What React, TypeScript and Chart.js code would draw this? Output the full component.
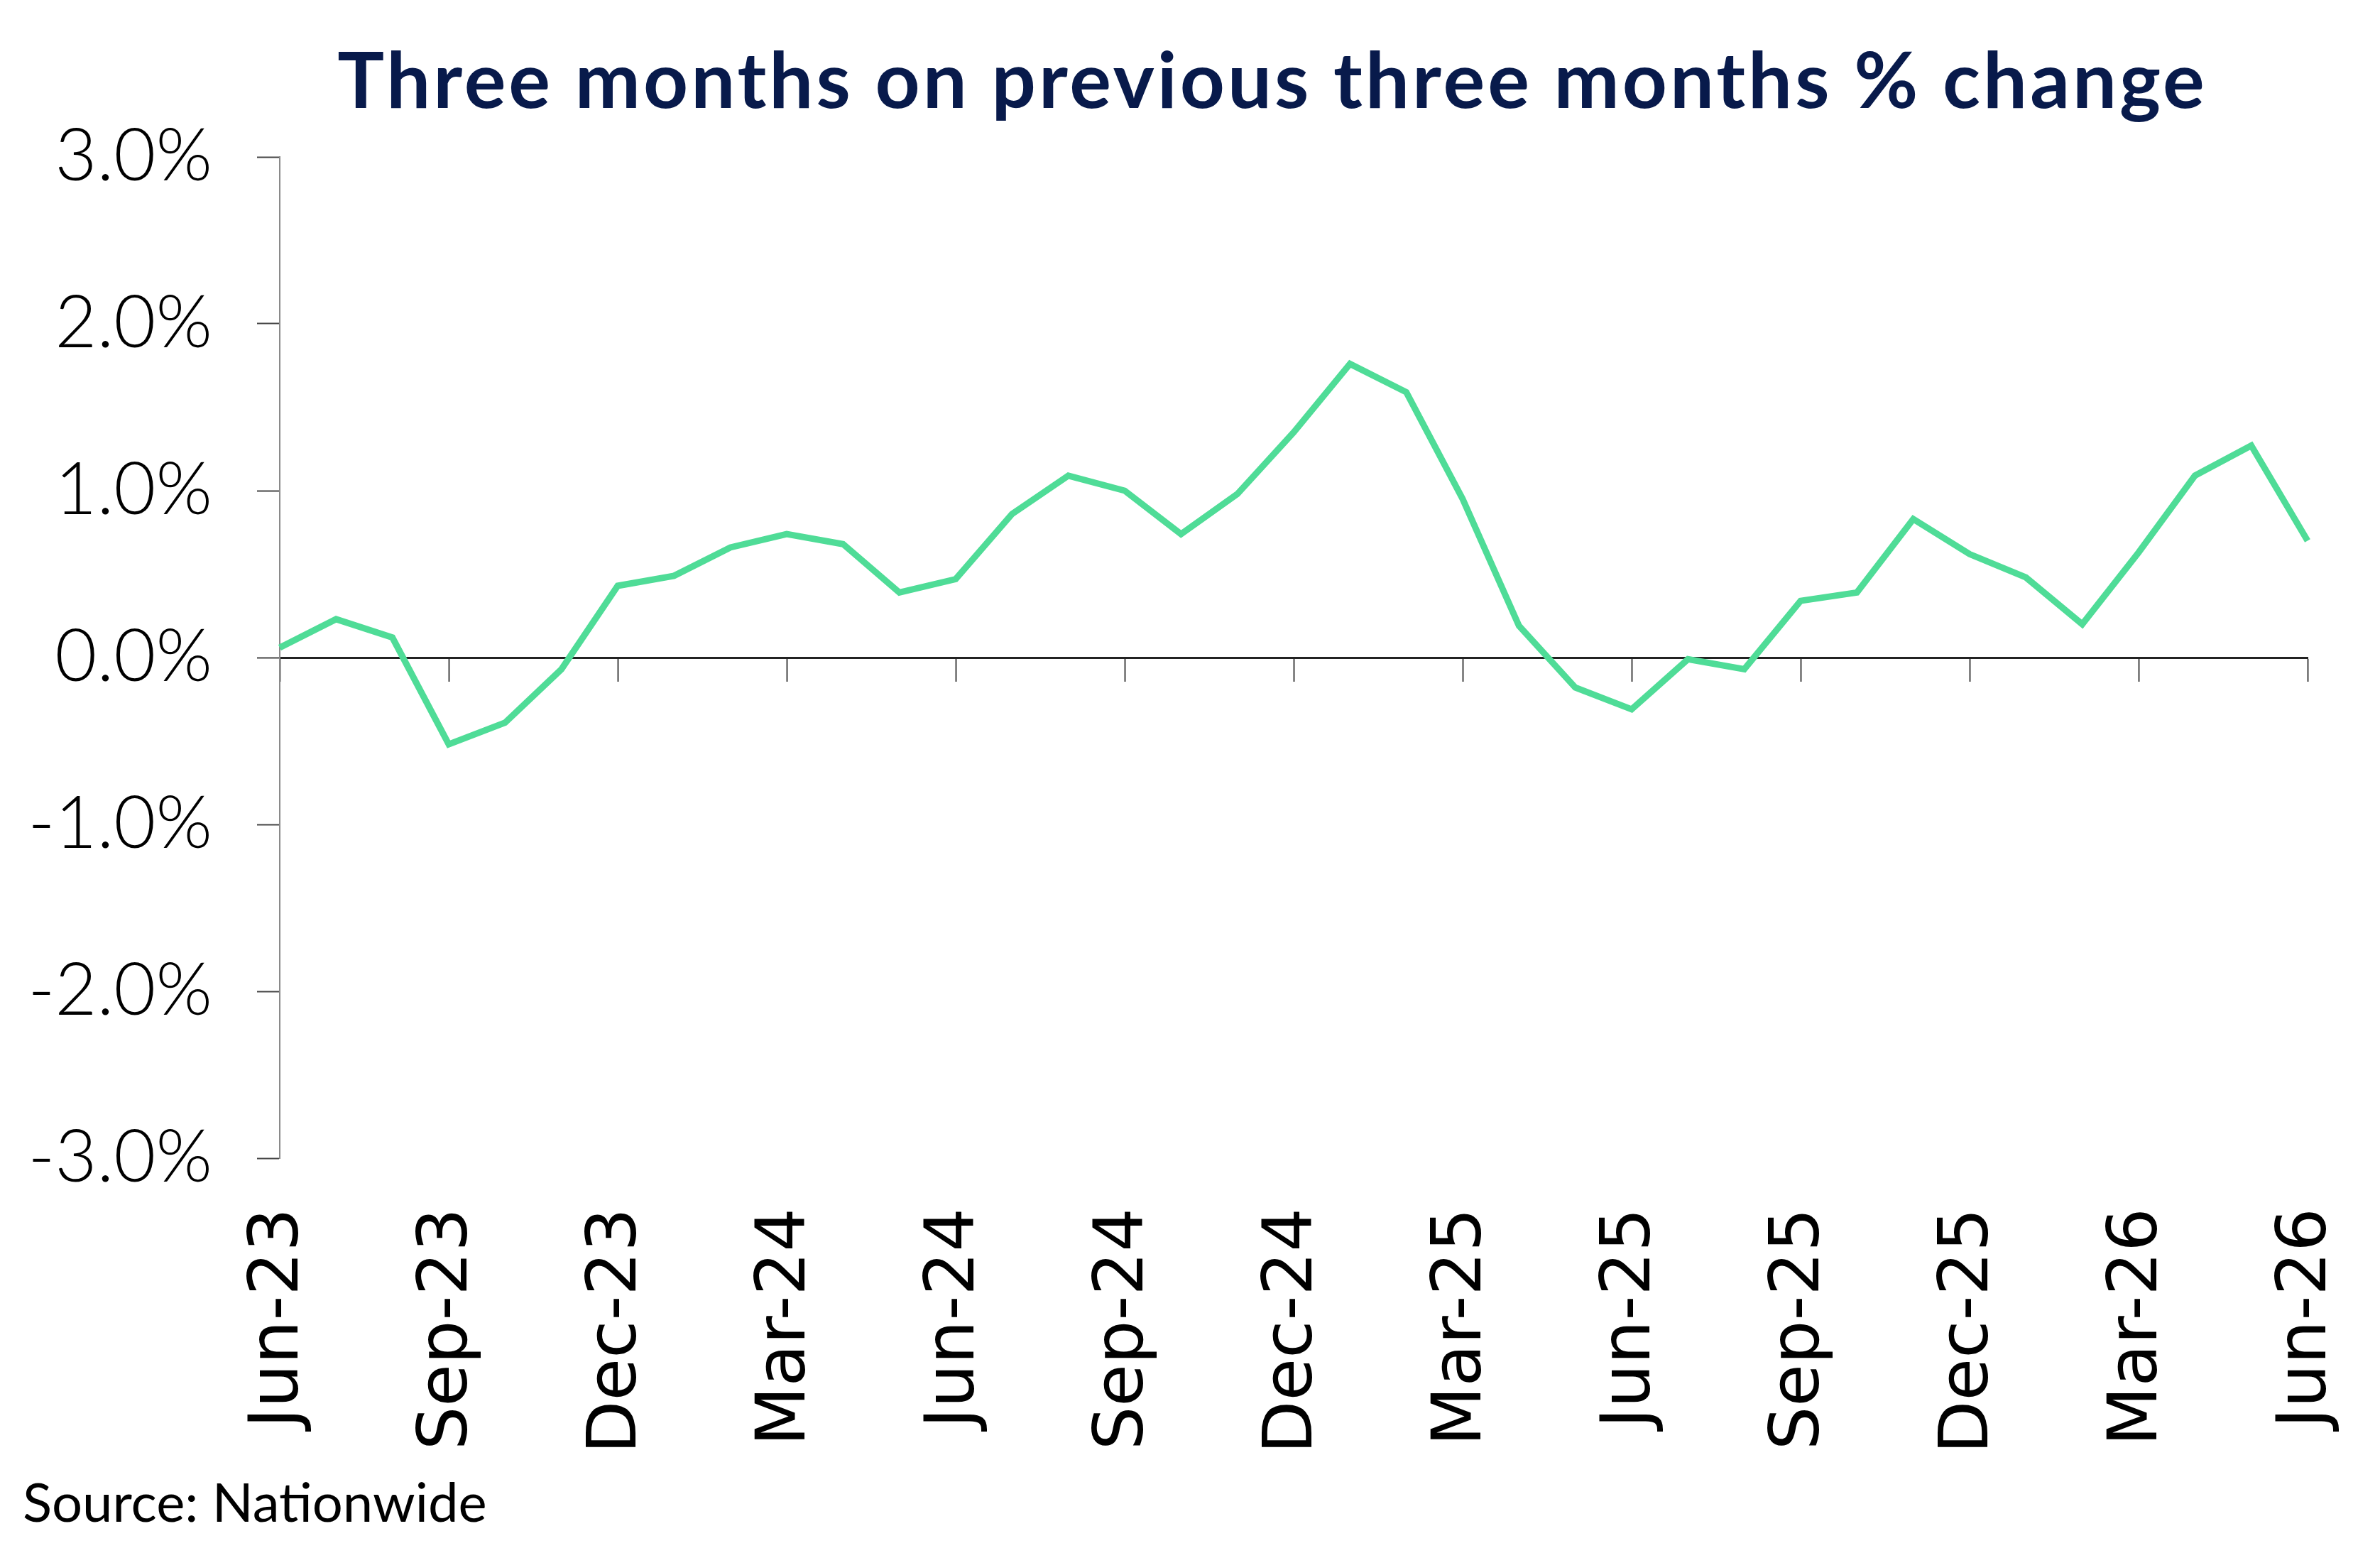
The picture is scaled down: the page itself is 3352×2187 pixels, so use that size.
import { useEffect, useRef } from "react"
import { Chart, registerables, type ChartConfiguration, type Plugin } from "chart.js"

Chart.register(...registerables)

// monthly periods, Jun-23 .. Jun-26
const MONTHS = [
  'Jun-23', 'Jul-23', 'Aug-23', 'Sep-23', 'Oct-23', 'Nov-23', 'Dec-23',
  'Jan-24', 'Feb-24', 'Mar-24', 'Apr-24', 'May-24', 'Jun-24', 'Jul-24',
  'Aug-24', 'Sep-24', 'Oct-24', 'Nov-24', 'Dec-24', 'Jan-25', 'Feb-25',
  'Mar-25', 'Apr-25', 'May-25', 'Jun-25', 'Jul-25', 'Aug-25', 'Sep-25',
  'Oct-25', 'Nov-25', 'Dec-25', 'Jan-26', 'Feb-26', 'Mar-26', 'Apr-26',
  'May-26', 'Jun-26',
]

// 3m on previous 3m % change
const CHANGE = [
  0.06, 0.23, 0.12, -0.52, -0.39, -0.07, 0.43,
  0.49, 0.66, 0.74, 0.68, 0.39, 0.47, 0.86,
  1.09, 1.00, 0.74, 0.98, 1.35, 1.76, 1.59,
  0.95, 0.19, -0.18, -0.31, -0.01, -0.07, 0.34,
  0.39, 0.83, 0.62, 0.48, 0.20, 0.63, 1.09,
  1.27, 0.70,
]

const Y_MIN = -3
const Y_MAX = 3
const LABEL_EVERY = 3

const TITLE = 'Three months on previous three months % change'
const SOURCE = 'Source: Nationwide'

const GREEN = 'rgb(79,220,151)'
const NAVY = '#081a4b'
const NARROW = 'Lato, "Open Sans", sans-serif'
const WIDE = '"DejaVu Sans", Verdana, sans-serif'

const textPlugin: Plugin<'line'> = {
  id: 'textOverlay',
  afterDraw(chart) {
    const { ctx, chartArea } = chart
    ctx.save()
    ctx.fillStyle = NAVY
    ctx.font = `bold 110px ${NARROW}`
    ;(ctx as any).letterSpacing = '4px'
    ctx.textAlign = 'center'
    ctx.textBaseline = 'alphabetic'
    ctx.fillText(TITLE, (chartArea.left + chartArea.right) / 2 - 30, 152)

    ;(ctx as any).letterSpacing = '0px'
    ctx.fillStyle = '#000'
    ctx.font = `normal 76px ${NARROW}`
    ctx.textAlign = 'left'
    ctx.fillText(SOURCE, 32, 2143)
    ctx.restore()
  },
}

export default function App() {
  const canvasRef = useRef<HTMLCanvasElement>(null)
  const chartRef = useRef<Chart<'line'> | null>(null)

  useEffect(() => {
    document.body.style.margin = '0'
    document.body.style.overflow = 'hidden'
    if (!canvasRef.current) return
    chartRef.current?.destroy()

    const cfg: ChartConfiguration<'line'> = {
      type: 'line',
      data: {
        labels: MONTHS,
        datasets: [
          {
            label: '3m on 3m',
            data: CHANGE,
            borderColor: GREEN,
            backgroundColor: 'transparent',
            borderWidth: 9,
            pointRadius: 0,
            tension: 0,
            xAxisID: 'x',
            yAxisID: 'y',
          },
        ],
      },
      options: {
        responsive: true,
        maintainAspectRatio: false,
        animation: false,
        layout: { padding: { top: 221, left: 0, right: 102, bottom: 0 } },
        plugins: {
          legend: { display: false },
          tooltip: { enabled: false },
          title: { display: false },
        },
        scales: {
          x: {
            type: 'category',
            position: 'bottom',
            offset: false,
            grid: { display: false },
            border: { display: false },
            afterFit: (s: any) => {
              s.height = 556
              s.paddingLeft = 0
              s.paddingRight = 0
            },
            ticks: {
              autoSkip: false,
              minRotation: 90,
              maxRotation: 90,
              padding: 62,
              color: '#000',
              font: { family: WIDE, size: 97 },
              callback: (_v, i) => (i % LABEL_EVERY === 0 ? MONTHS[i] : null),
            },
          },
          // zero line with quarter tick marks
          x0: {
            type: 'category',
            position: { y: 0 },
            offset: false,
            grid: {
              display: true,
              drawOnChartArea: false,
              drawTicks: true,
              tickLength: 32,
              tickWidth: 2,
              tickColor: (c) => (c.index % LABEL_EVERY === 0 ? '#444' : 'transparent'),
            },
            border: { display: true, color: '#222', width: 3 },
            ticks: { display: false, autoSkip: false },
          },
          y: {
            min: Y_MIN,
            max: Y_MAX,
            afterFit: (s) => { s.width = 394 },
            grid: {
              display: true,
              drawOnChartArea: false,
              drawTicks: true,
              tickLength: 32,
              tickWidth: 2,
              tickColor: '#444',
            },
            border: { display: true, color: '#8a8a8a', width: 2 },
            ticks: {
              stepSize: 1,
              padding: 63,
              color: '#000',
              font: { family: NARROW, size: 102, weight: 300 },
              callback: (v) => `${Number(v).toFixed(1)}%`,
            },
          },
        },
      },
      plugins: [textPlugin],
    }

    chartRef.current = new Chart(canvasRef.current, cfg)
    return () => { chartRef.current?.destroy() }
  }, [])

  return (
    <div style={{ width: '100vw', height: '100vh', position: 'relative', background: '#fff' }}>
      <canvas ref={canvasRef} />
    </div>
  )
}
